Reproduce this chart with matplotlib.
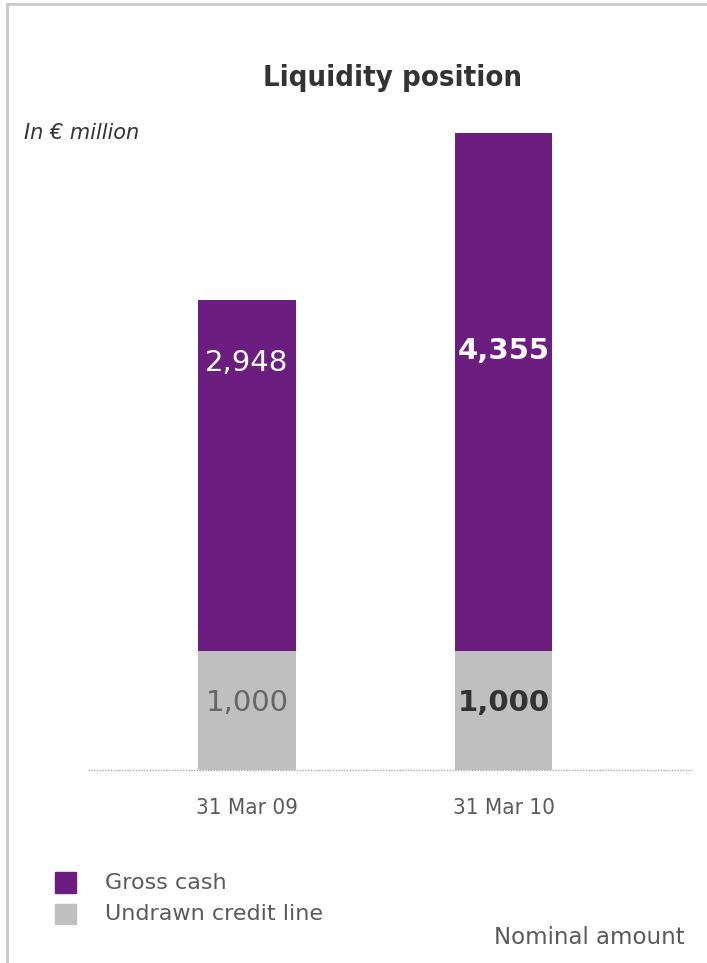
import matplotlib.pyplot as plt
from matplotlib.lines import Line2D
from matplotlib.patches import Rectangle

dates = ["31 Mar 09", "31 Mar 10"]
credit_line = [1000, 1000]
gross_cash = [2948, 4355]
series_names = ["Gross cash", "Undrawn credit line"]

purple = "#6b1e80"
grey = "#bfbfbf"
txt = "#5a5a5a"

plt.rcParams['font.family'] = ['DejaVu Sans']

fig = plt.figure(figsize=(7.07, 9.63), dpi=100)
ax = fig.add_axes([0.1245, 0.2004, 0.8543, 0.6615])

x = range(len(dates))
ax.bar(x, credit_line, width=0.382, color=grey)
ax.bar(x, gross_cash, width=0.382, bottom=credit_line, color=purple)

ax.set_xlim(-0.62, 1.735)
ax.set_ylim(0, 5355)
for s in ax.spines.values():
    s.set_visible(False)
ax.set_yticks([])
ax.set_xticks(list(x))
ax.set_xticklabels(dates, fontsize=16, color=txt, fontstretch='condensed')
ax.tick_params(axis='x', length=0, pad=20)
ax.axhline(0, color="#aaaaaa", lw=1, ls=(0, (1, 1)), clip_on=False)

# value labels, latest year in bold; cash labels sit in upper part of the bar
frac = [0.82, 0.58]
for i in x:
    bold = 'bold' if i == 1 else 'normal'
    ax.text(i, credit_line[i] / 2 + 60, f"{credit_line[i]:,}", ha='center', va='center',
            fontsize=21, fontweight=bold, color="#333333" if i == 1 else "#666666")
    ax.text(i, credit_line[i] + gross_cash[i] * frac[i], f"{gross_cash[i]:,}", ha='center', va='center',
            fontsize=21, fontweight=bold, color="white")

fig.text(0.555, 0.919, "Liquidity position", ha='center', va='center', fontsize=21,
         fontweight='bold', color="#333333", fontstretch='condensed')
fig.text(0.034, 0.862, "In € million", ha='left', va='center', fontsize=15,
         style='italic', color="#333333")

# legend
cols = [purple, grey]
for k, name in enumerate(series_names):
    yy = 0.083 - k * 0.0325
    fig.add_artist(Rectangle((0.078, yy - 0.010), 0.029, 0.021, color=cols[k],
                             transform=fig.transFigure))
    fig.text(0.148, yy, name, ha='left', va='center', fontsize=16, color=txt)
fig.text(0.968, 0.026, "Nominal amount", ha='right', va='center', fontsize=16.5, color=txt)

# frame
fig.add_artist(Line2D([0.01, 1.0], [0.996, 0.996], color="#c8c8c8", lw=2))
fig.add_artist(Line2D([0.01, 0.01], [0.0, 0.996], color="#c8c8c8", lw=2))

fig.savefig("out.png", dpi=100)
